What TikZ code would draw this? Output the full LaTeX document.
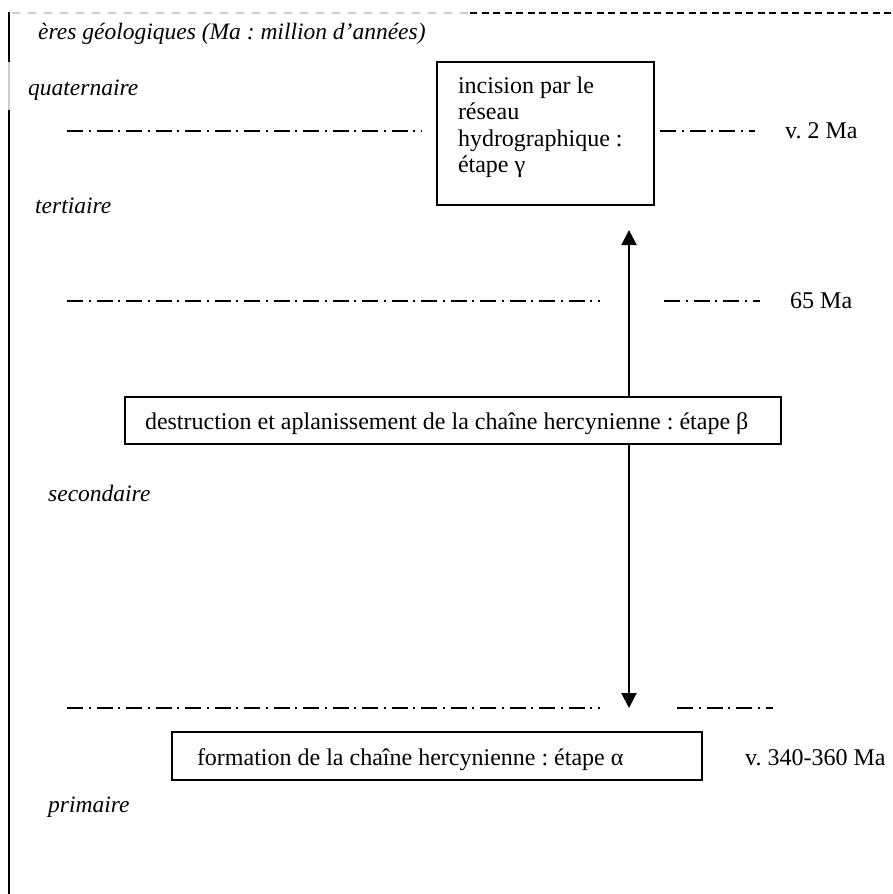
\documentclass[tikz,border=0pt]{standalone}
\usepackage{fontspec}
\setmainfont{Liberation Serif}
\usetikzlibrary{arrows.meta}
\frenchspacing
\tikzset{
  txt/.style={font=\fontsize{24}{26.5}\selectfont\frenchspacing, inner sep=0pt, anchor=base west},
  era/.style={txt, font=\fontsize{23.5}{26.5}\selectfont\frenchspacing\itshape},
  stagebox/.style={draw, line width=1.8pt, anchor=base west, align=flush left, inner ysep=0pt, outer sep=0pt,
    font=\fontsize{24}{26.5}\selectfont\frenchspacing},
  limit/.style={line width=1.3pt, dash pattern=on 16pt off 5.5pt on 2pt off 6pt},
  arr/.style={line width=2pt, -{Triangle[length=15pt,width=15pt]}},
  frameblack/.style={line width=1.3pt, dash pattern=on 7pt off 4.5pt},
  framegray/.style={line width=1.3pt, black!20, dash pattern=on 8pt off 8pt}
}
\begin{document}
\begin{tikzpicture}[x=1pt,y=-1pt]
\useasboundingbox (0,0) rectangle (893,894);
% frame
\draw[framegray] (12,13) -- (470,13);
\draw[frameblack] (470,13) -- (893,13);
\draw[line width=2pt] (9,12) -- (9,62);
\draw[line width=1.3pt, black!20] (9,62) -- (9,110);
\draw[line width=2pt] (9,110) -- (9,894);
% era labels
\node[era] (title) at (38,39) {ères géologiques (Ma : million d’années)};
\node[era] (quat) at (28,95) {quaternaire};
\node[era] (tert) at (35,213) {tertiaire};
\node[era] (sec) at (48,501) {secondaire};
\node[era] (prim) at (48,812) {primaire};
% dates
\node[txt] (d2) at (785,138) {v. 2 Ma};
\node[txt] (d65) at (790,308) {65 Ma};
\node[txt] (d340) at (745,765) {v. 340-360 Ma};
% limit lines
\draw[limit] (67,131) -- (422,131);
\draw[limit] (660,131) -- (755,131);
\draw[limit] (67,301) -- (600,301);
\draw[limit] (664,301) -- (760,301);
\draw[limit] (67,708) -- (600,708);
\draw[limit] (677,708) -- (773,708);
% boxes
\node[stagebox, inner xsep=21pt, text width=175pt, text height=31pt, text depth=112pt] (gamma) at (437,93)
  {incision par le\\réseau\\hydrographique :\\étape γ};
\node[stagebox, inner xsep=20pt, text width=616pt, text height=32pt, text depth=15pt] (beta) at (125,429)
  {destruction et aplanissement de la chaîne hercynienne : étape β};
\node[stagebox, inner xsep=25pt, text width=480pt, text height=33pt, text depth=15pt] (alpha) at (172,765)
  {formation de la chaîne hercynienne : étape α};
% arrows
\coordinate (uptip) at (629,230);
\coordinate (downtip) at (629,708);
\draw[arr] (beta.north -| uptip) -- (uptip);
\draw[arr] (beta.south -| downtip) -- (downtip);
\end{tikzpicture}
\end{document}
